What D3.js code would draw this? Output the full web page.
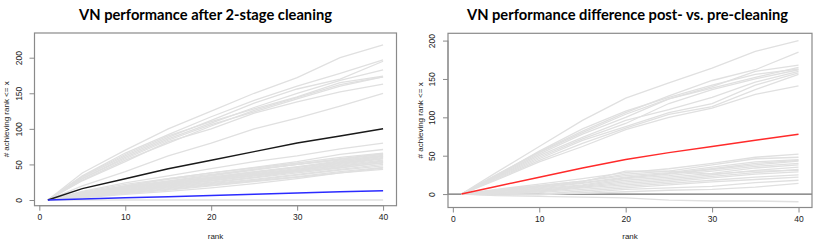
<!DOCTYPE html>
<html>
<head>
<meta charset="utf-8">
<script src="https://cdn.jsdelivr.net/npm/d3@7"></script>
<style>
  body { margin: 0; background: #fff; }
  svg { display: block; }
  text { font-family: "Liberation Sans", Arial, sans-serif; fill: #222; }
  .title { font-family: Lato, "Open Sans", sans-serif; font-weight: bold; fill: #000; }
</style>
</head>
<body>
<svg id="chart" width="830" height="251"></svg>
<script>
// ranks at which each curve was sampled
var ranks = [1, 5, 10, 15, 20, 25, 30, 35, 40];

// left panel: after 2-stage cleaning
var afterGrey = [
  [0, 38, 70, 100, 125, 150, 172, 200, 218],
  [0, 34, 66, 92, 117, 140, 160, 178, 197],
  [0, 32, 62, 88, 112, 136, 156, 170, 195],
  [0, 30, 60, 86, 108, 130, 150, 168, 183],
  [0, 33, 64, 90, 110, 128, 145, 165, 174],
  [0, 28, 56, 80, 104, 126, 144, 162, 173],
  [0, 30, 58, 84, 106, 124, 142, 160, 173],
  [0, 27, 54, 82, 100, 122, 138, 152, 163],
  [0, 20, 40, 62, 80, 100, 115, 132, 150],
  [0, 12, 24, 34, 44, 54, 62, 72, 80],
  [0, 10, 20, 30, 38, 46, 54, 64, 71],
  [0, 11, 22, 30, 38, 45, 52, 60, 66],
  [0, 9, 18, 26, 34, 42, 50, 58, 65],
  [0, 10, 19, 27, 35, 43, 50, 57, 64],
  [0, 8, 17, 25, 32, 40, 47, 55, 63],
  [0, 9, 20, 29, 36, 43, 50, 56, 62],
  [0, 7, 16, 24, 32, 39, 46, 53, 62],
  [0, 9, 17, 24, 31, 38, 46, 54, 61],
  [0, 7, 15, 22, 30, 37, 44, 52, 60],
  [0, 8, 16, 23, 30, 36, 43, 51, 59],
  [0, 6, 14, 21, 28, 35, 42, 50, 58],
  [0, 7, 14, 20, 27, 34, 41, 49, 56],
  [0, 6, 12, 19, 25, 32, 40, 47, 55],
  [0, 8, 15, 22, 29, 36, 42, 48, 54],
  [0, 5, 12, 18, 24, 31, 38, 45, 53],
  [0, 6, 13, 20, 27, 34, 40, 46, 52],
  [0, 5, 11, 17, 23, 29, 36, 43, 50],
  [0, 4, 10, 16, 22, 28, 35, 42, 48],
  [0, 5, 10, 15, 21, 27, 33, 40, 46],
  [0, 3, 8, 12, 17, 23, 30, 38, 45],
  [0, 4, 9, 14, 20, 26, 32, 38, 43],
  [0, 0, 0, 0, 0, 0, 0, 0, 0]
];
var afterMean = [0, 16, 30, 44, 56, 68, 80, 90, 100];
var afterBlue = [0, 1.5, 3, 4.5, 6.5, 8, 10, 11.5, 13];

// right panel: difference post- vs pre-cleaning
var diffGrey = [
  [0, 28, 62, 96, 125, 145, 164, 186, 200],
  [0, 25, 55, 82, 106, 128, 148, 162, 185],
  [0, 24, 54, 80, 104, 124, 140, 160, 168],
  [0, 23, 52, 78, 100, 124, 138, 152, 165],
  [0, 24, 56, 85, 108, 126, 142, 156, 163],
  [0, 21, 48, 72, 92, 118, 136, 150, 162],
  [0, 22, 50, 74, 96, 110, 126, 146, 160],
  [0, 20, 46, 70, 88, 106, 118, 142, 158],
  [0, 19, 44, 66, 86, 104, 114, 136, 156],
  [0, 18, 42, 62, 84, 100, 112, 130, 141],
  [0, 6, 13, 20, 28, 33, 40, 48, 52],
  [0, 5, 11, 17, 26, 30, 38, 46, 48],
  [0, 5, 11, 17, 24, 28, 35, 42, 45],
  [0, 4, 9, 15, 22, 27, 33, 40, 44],
  [0, 3, 8, 14, 21, 26, 32, 38, 43],
  [0, 3, 7, 12, 20, 24, 30, 36, 40],
  [0, 2, 6, 11, 18, 22, 27, 34, 38],
  [0, 2, 5, 10, 16, 20, 25, 31, 35],
  [0, 1, 4, 9, 14, 18, 23, 28, 32],
  [0, 4, 10, 16, 30, 30, 26, 30, 31],
  [0, 1, 3, 8, 12, 16, 21, 26, 29],
  [0, 0, 2, 6, 10, 14, 18, 22, 25],
  [0, -1, 0, 4, 8, 12, 16, 19, 22],
  [0, -1, -1, 2, 6, 8, 10, 15, 18],
  [0, 0, 0, 1, 3, 5, 6, 9, 14],
  [0, -2, -3, -4, -5, -8, -9, -9, -10]
];
var diffRed = [0, 10, 22, 34, 45, 54, 62, 70, 78];

var xTicks = [0, 10, 20, 30, 40];
var leftYTicks = [0, 50, 100, 150, 200];
var rightYTicks = [0, 50, 100, 150, 200];

var titles = ["VN performance after 2-stage cleaning", "VN performance difference post- vs. pre-cleaning"];
var yLabel = "# achieving rank <= x";
var xLabel = "rank";

var svg = d3.select('#chart');

function drawPanel(p) {
  var x = d3.scaleLinear().domain([-0.56, 41.56]).range([p.left, p.right]);
  var y = d3.scaleLinear().domain(p.yDomain).range([p.bottom, p.top]);

  var g = svg.append('g');

  var line = d3.line()
    .x(function(d, i) { return x(ranks[i]); })
    .y(function(d) { return y(d); });

  if (p.zeroLine) {
    g.append('line')
      .attr('x1', p.left).attr('x2', p.right)
      .attr('y1', y(0)).attr('y2', y(0))
      .attr('stroke', '#6e6e6e').attr('stroke-width', 1.2);
  }

  g.selectAll('path.grey')
    .data(p.grey)
    .enter()
    .append('path')
    .attr('class', 'grey')
    .attr('d', line)
    .attr('fill', 'none')
    .attr('stroke', '#e0e0e0')
    .attr('stroke-width', 1.3);

  p.highlight.forEach(function(h) {
    g.append('path')
      .attr('d', line(h.values))
      .attr('fill', 'none')
      .attr('stroke', h.color)
      .attr('stroke-width', 1.5);
  });

  // box
  g.append('rect')
    .attr('x', p.left).attr('y', p.top)
    .attr('width', p.right - p.left).attr('height', p.bottom - p.top)
    .attr('fill', 'none').attr('stroke', '#8a8a8a').attr('stroke-width', 1.2);

  var xAxis = d3.axisBottom(x).tickValues(xTicks).tickSize(5).tickPadding(3);
  var xg = g.append('g')
    .attr('transform', 'translate(0,' + p.bottom + ')')
    .call(xAxis);
  xg.select('.domain')
    .attr('d', 'M' + x(0) + ',0H' + x(40))
    .attr('stroke', '#8a8a8a');
  xg.selectAll('.tick line').attr('stroke', '#8a8a8a');
  xg.selectAll('text').attr('font-size', '8.5px').attr('font-family', null).attr('fill', '#222');

  var yAxis = d3.axisLeft(y).tickValues(p.yTicks).tickSize(5).tickPadding(3);
  var yg = g.append('g')
    .attr('transform', 'translate(' + p.left + ',0)')
    .call(yAxis);
  yg.select('.domain')
    .attr('d', 'M0,' + y(p.yTicks[0]) + 'V' + y(p.yTicks[p.yTicks.length - 1]))
    .attr('stroke', '#8a8a8a');
  yg.selectAll('.tick line').attr('stroke', '#8a8a8a');
  // R draws y tick labels parallel to the axis
  yg.selectAll('text')
    .attr('font-size', '8.5px').attr('font-family', null).attr('fill', '#222')
    .attr('x', null).attr('dy', null)
    .attr('text-anchor', 'middle')
    .attr('transform', 'translate(-13,0) rotate(-90)');

  g.append('text')
    .attr('class', 'title')
    .attr('x', p.titleX).attr('y', 20)
    .attr('text-anchor', 'middle')
    .attr('font-size', '14.7px')
    .text(p.title);

  g.append('text')
    .attr('transform', 'translate(' + p.yLabelX + ',' + ((p.top + p.bottom) / 2) + ') rotate(-90)')
    .attr('text-anchor', 'middle')
    .attr('font-size', '8px')
    .text(yLabel);

  g.append('text')
    .attr('x', (p.left + p.right) / 2).attr('y', 239)
    .attr('text-anchor', 'middle')
    .attr('font-size', '8px')
    .text(xLabel);
}

drawPanel({
  left: 34.5, right: 396.5, top: 33, bottom: 205.7,
  yDomain: [-8, 234.7], yTicks: leftYTicks,
  grey: afterGrey,
  highlight: [{ values: afterMean, color: '#1a1a1a' }, { values: afterBlue, color: '#2b2bff' }],
  zeroLine: false,
  title: titles[0], titleX: 205.5, yLabelX: 9
});

drawPanel({
  left: 448, right: 812, top: 33.3, bottom: 207.5,
  yDomain: [-17.5, 209.5], yTicks: rightYTicks,
  grey: diffGrey,
  highlight: [{ values: diffRed, color: '#ff2a2a' }],
  zeroLine: true,
  title: titles[1], titleX: 627.5, yLabelX: 423
});
</script>
</body>
</html>
